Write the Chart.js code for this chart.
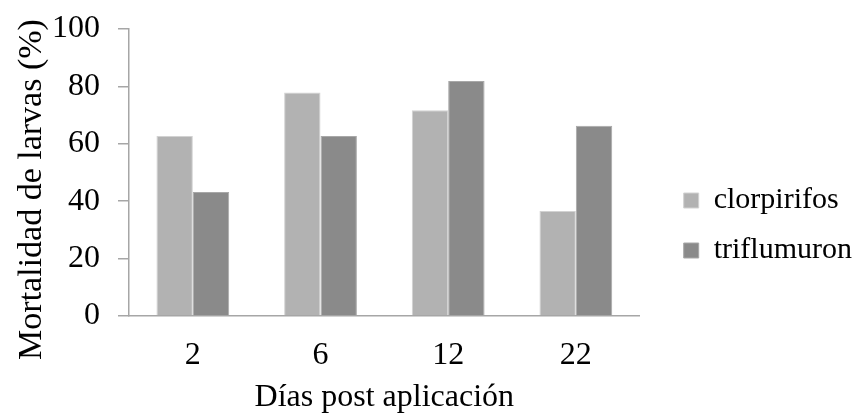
<!DOCTYPE html>
<html>
<head>
<meta charset="utf-8">
<script src="https://cdn.jsdelivr.net/npm/chart.js@4/dist/chart.umd.min.js"></script>
<style>
  html, body { margin: 0; padding: 0; background: #fff; }
  #wrap { width: 856px; height: 414px; }
</style>
</head>
<body>
<div id="wrap"><canvas id="chartBar"></canvas></div>
<script>
// Datos
const dias = ['2', '6', '12', '22'];
const clorpirifos = [62.7, 77.9, 71.7, 36.6];
const triflumuron = [43.2, 62.7, 81.9, 66.3];
const yTicks = [0, 20, 40, 60, 80, 100];

const serif = 'Liberation Serif';
const axisGray = '#a6a6a6';

const cht = document.getElementById('chartBar');

// separa la leyenda del área del gráfico (como en el original)
const legendShift = {
  id: 'legendShift',
  afterLayout(chart) {
    const dx = 24, dy = 4;
    chart.legend.left += dx;
    chart.legend.right += dx;
    chart.legend.top += dy;
    chart.legend.bottom += dy;
  }
};

const config = {
  type: 'bar',
  data: {
    labels: dias,
    datasets: [
      { label: 'clorpirifos', data: clorpirifos, backgroundColor: '#b2b2b2', borderColor: '#d2d2d2', borderWidth: 1 },
      { label: 'triflumuron', data: triflumuron, backgroundColor: '#8a8a8a', borderColor: '#a8a8a8', borderWidth: 1 }
    ]
  },
  options: {
    responsive: true,
    maintainAspectRatio: false,
    animation: false,
    layout: { padding: { top: 29, right: 18, bottom: 0, left: 0 } },
    datasets: { bar: { barPercentage: 1, categoryPercentage: 0.57 } },
    plugins: {
      legend: {
        position: 'right',
        labels: {
          boxWidth: 15,
          boxHeight: 15,
          padding: 20,
          color: '#000',
          font: { family: serif, size: 30 }
        }
      },
      tooltip: { enabled: false }
    },
    scales: {
      x: {
        grid: { display: false },
        border: { color: axisGray, width: 1.5 },
        ticks: { color: '#000', padding: 12, font: { family: serif, size: 32 } },
        title: {
          display: true,
          text: 'Días post aplicación',
          color: '#000',
          font: { family: serif, size: 32 },
          padding: { top: 0, bottom: -3 }
        },
        afterFit: function(s) { s.height = 98; }
      },
      y: {
        min: 0,
        max: 100,
        afterBuildTicks: function(s) { s.ticks = yTicks.map(v => ({ value: v })); },
        grid: { drawOnChartArea: false, drawTicks: true, tickLength: 11, color: axisGray, lineWidth: 1.5 },
        border: { color: axisGray, width: 1.5 },
        ticks: { color: '#000', padding: 18, font: { family: serif, size: 32 } },
        title: {
          display: true,
          text: 'Mortalidad de larvas (%)    ',
          color: '#000',
          font: { family: serif, size: 34 },
          padding: { top: 12, bottom: 0 }
        },
        afterFit: function(s) {
          s.width = 129;
          s.paddingTop = 0;
          s.paddingBottom = 0;
        }
      }
    }
  },
  plugins: [legendShift]
};

new Chart(cht, config);
</script>
</body>
</html>
